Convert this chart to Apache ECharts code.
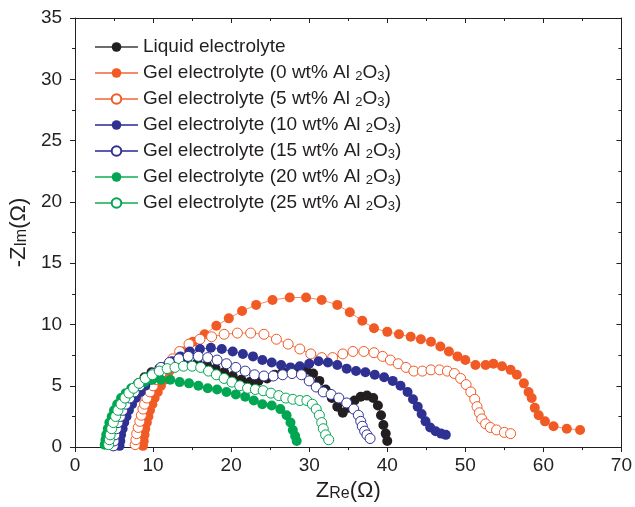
<!DOCTYPE html>
<html><head><meta charset="utf-8">
<script src="https://cdn.jsdelivr.net/npm/echarts@6/dist/echarts.min.js"></script>
<style>html,body{margin:0;padding:0;background:#fff}#c{width:635px;height:507px}</style>
</head><body><div id="c"></div>
<script>
const seriesNames = ["Liquid electrolyte","Gel electrolyte (0 wt% Al2O3)","Gel electrolyte (5 wt% Al2O3)","Gel electrolyte (10 wt% Al2O3)","Gel electrolyte (15 wt% Al2O3)","Gel electrolyte (20 wt% Al2O3)","Gel electrolyte (25 wt% Al2O3)"];
const xTicks = [0,10,20,30,40,50,60,70];
const yTicks = [0,5,10,15,20,25,30,35];

const liquidX = [5.0,5.1,5.2,5.4,5.6,5.9,6.3,6.8,7.4,8.1,8.9,9.8,10.8,11.9,13.1,14.4,15.7,16.9,18.0,19.1,20.2,21.3,22.4,23.5,24.6,25.6,26.6,27.6,28.6,29.6,30.5,31.3,32.1,32.9,33.6,34.3,35.0,35.8,36.6,37.4,38.2,38.8,39.2,39.5,39.8,40.0];
const liquidY = [0.1,0.6,1.1,1.7,2.3,2.9,3.5,4.1,4.7,5.2,5.7,6.1,6.4,6.6,6.8,6.9,6.9,6.7,6.4,6.1,5.8,5.5,5.3,5.4,5.6,5.9,6.1,6.3,6.4,6.3,6.0,5.4,4.7,4.0,3.3,2.8,3.2,3.8,4.1,4.2,4.0,3.4,2.6,1.8,1.1,0.5];

const gel0X = [8.7,8.8,8.9,9.0,9.2,9.4,9.6,9.9,10.2,10.6,11.0,11.5,12.1,12.9,13.8,15.1,16.6,18.1,19.7,21.4,23.2,25.3,27.5,29.6,31.6,33.6,35.2,36.8,38.3,40.0,41.5,43.0,44.3,45.6,46.8,47.9,49.0,50.0,51.3,52.6,53.6,54.7,55.8,56.6,57.5,58.1,58.5,58.9,59.4,60.2,61.3,63.0,64.7];
const gel0Y = [0.1,0.5,1.0,1.5,2.0,2.5,3.0,3.5,4.0,4.5,5.0,5.5,6.2,7.0,7.8,8.6,9.2,9.9,10.5,11.1,11.6,12.0,12.2,12.2,12.0,11.6,11.0,10.3,9.7,9.4,9.2,9.0,8.8,8.6,8.2,7.8,7.4,7.1,6.7,6.7,6.8,6.6,6.3,5.9,5.2,4.5,4.0,3.2,2.6,2.1,1.7,1.5,1.4];

const gel5X = [7.7,7.8,7.9,8.1,8.3,8.5,8.7,8.9,9.2,9.6,10.0,10.4,11.0,11.7,12.5,13.4,14.6,16.0,17.5,19.1,20.8,22.5,24.2,25.8,27.3,28.8,30.2,31.6,33.0,34.3,35.6,37.0,38.3,39.4,40.4,41.4,42.4,43.4,44.5,45.6,46.7,47.7,48.6,49.4,50.1,50.7,51.2,51.5,51.8,52.1,52.6,53.2,54.0,55.0,55.8];
const gel5Y = [0.2,0.6,1.1,1.6,2.1,2.6,3.1,3.5,4.0,4.5,5.0,5.5,6.0,6.6,7.2,7.8,8.4,8.8,9.0,9.2,9.3,9.3,9.2,8.8,8.4,8.0,7.6,7.3,7.3,7.6,7.8,7.8,7.7,7.4,7.1,6.8,6.5,6.2,6.2,6.3,6.3,6.2,6.0,5.6,5.1,4.5,3.9,3.3,2.8,2.3,1.9,1.6,1.4,1.2,1.1];

const gel10X = [5.7,5.8,5.9,6.1,6.3,6.6,6.9,7.3,7.8,8.4,9.0,9.7,10.5,11.4,12.4,13.5,14.7,16.0,17.4,18.8,20.2,21.5,22.8,24.0,25.2,26.4,27.6,28.8,30.0,31.2,32.4,33.6,34.8,36.0,37.2,38.4,39.6,40.7,41.7,42.6,43.3,43.9,44.4,44.9,45.5,46.2,46.9,47.5];
const gel10Y = [0.1,0.5,1.0,1.5,2.0,2.5,3.0,3.5,4.0,4.5,5.0,5.5,6.0,6.5,7.0,7.4,7.8,8.0,8.1,8.0,7.8,7.6,7.4,7.1,6.9,6.7,6.5,6.6,6.8,7.0,6.9,6.7,6.4,6.2,6.1,5.9,5.7,5.4,5.0,4.5,3.9,3.3,2.7,2.1,1.6,1.3,1.1,1.0];

const gel15X = [4.9,5.0,5.1,5.3,5.5,5.8,6.1,6.5,7.0,7.6,8.3,9.1,10.0,11.0,12.1,13.3,14.5,15.8,17.0,18.2,19.4,20.6,21.8,23.0,24.2,25.4,26.6,27.8,29.0,30.0,30.9,31.8,32.8,33.8,34.8,35.7,36.3,36.6,36.8,37.1,37.4,37.8];
const gel15Y = [0.1,0.5,1.0,1.5,2.0,2.5,3.0,3.5,4.0,4.5,5.0,5.5,6.0,6.5,6.9,7.2,7.4,7.4,7.3,7.1,6.8,6.5,6.2,5.9,5.8,5.8,5.9,6.0,5.9,5.4,4.9,4.5,4.3,4.0,3.6,3.1,2.6,2.1,1.7,1.3,1.0,0.7];

const gel20X = [3.8,3.9,4.0,4.2,4.4,4.7,5.0,5.4,5.9,6.5,7.2,8.0,8.9,9.9,11.0,12.2,13.4,14.6,15.8,17.0,18.2,19.4,20.6,21.8,22.9,24.0,25.2,26.3,27.1,27.6,27.9,28.2,28.4];
const gel20Y = [0.2,0.6,1.0,1.5,2.0,2.5,3.0,3.5,4.0,4.4,4.8,5.1,5.3,5.5,5.5,5.5,5.3,5.2,5.0,4.8,4.7,4.5,4.3,4.1,3.8,3.5,3.4,3.1,2.6,2.0,1.4,0.9,0.5];

const gel25X = [4.3,4.4,4.5,4.7,4.9,5.2,5.5,5.9,6.4,6.9,7.5,8.2,9.0,9.9,10.8,11.8,12.8,13.9,15.0,16.1,17.1,18.1,19.1,20.1,21.1,22.1,23.1,24.1,25.1,26.1,27.0,27.9,28.8,29.7,30.4,30.9,31.3,31.6,31.8,32.1,32.5];
const gel25Y = [0.2,0.6,1.0,1.5,2.0,2.5,3.0,3.5,4.0,4.4,4.8,5.2,5.6,5.9,6.2,6.4,6.5,6.6,6.6,6.5,6.2,5.9,5.6,5.3,5.0,4.8,4.7,4.6,4.4,4.2,4.0,3.9,3.8,3.8,3.5,3.1,2.6,2.0,1.5,1.0,0.6];

const xs = [liquidX,gel0X,gel5X,gel10X,gel15X,gel20X,gel25X];
const ys = [liquidY,gel0Y,gel5Y,gel10Y,gel15Y,gel20Y,gel25Y];
const markColors = ["#231f20","#f15a24","#f15a24","#2e3192","#2e3192","#00a651","#00a651"];
const lineColors = ["#6d6d6d","#f58a6a","#f58a6a","#5a5db0","#5a5db0","#4cc07f","#4cc07f"];
const hollow = [false,false,true,false,true,false,true];

const FONT = "Liberation Sans, Arial, sans-serif";
const series = seriesNames.map((n,i)=>({
  name:n, type:'line', xAxisIndex:0, yAxisIndex:0,
  data: xs[i].map((x,k)=>[x, ys[i][k]]),
  symbol:'circle', symbolSize:10, showSymbol:true,
  lineStyle:{color:lineColors[i], width:1},
  itemStyle: hollow[i] ? {color:'#ffffff', borderColor:markColors[i], borderWidth:1} : {color:markColors[i], borderColor:markColors[i], borderWidth:0},
  animation:false, z: 2+i
}));

const nameRich = {s:{fontFamily:FONT, fontSize:16, color:'#231f20', verticalAlign:'bottom', lineHeight:20}};
const chart = echarts.init(document.getElementById('c'));
chart.setOption({
  animation:false,
  backgroundColor:'#fff',
  grid:{left:75, right:12, top:18, bottom:56},
  legend:{
    left:89, top:32, orient:'vertical', itemWidth:43, itemHeight:12, itemGap:6,
    data: seriesNames,
    formatter: n => n.replace('Al2O3','Al {s|2}O{s|3}'),
    textStyle:{fontFamily:FONT, fontSize:19, color:'#231f20', lineHeight:20,
      rich:{s:{fontFamily:FONT, fontSize:13, color:'#231f20', verticalAlign:'bottom', lineHeight:16}}}
  },
  xAxis:[{
    type:'value', min:0, max:70, interval:10, position:'bottom',
    name:'Z{s|Re}(Ω)', nameLocation:'middle', nameGap:30,
    nameTextStyle:{fontFamily:FONT, fontSize:22, color:'#231f20', rich:nameRich},
    axisLine:{show:true, onZero:false, lineStyle:{color:'#231f20', width:1}},
    axisTick:{show:true, inside:false, length:5, lineStyle:{color:'#231f20'}},
    minorTick:{show:true, splitNumber:2, length:3, lineStyle:{color:'#231f20'}},
    axisLabel:{fontFamily:FONT, fontSize:19, color:'#231f20', margin:9, formatter:v=>xTicks.includes(v)?String(v):''},
    splitLine:{show:false}
  },{
    type:'value', min:0, max:70, interval:10, position:'top',
    axisLine:{show:true, onZero:false, lineStyle:{color:'#231f20', width:1}},
    axisTick:{show:true, inside:true, length:5, lineStyle:{color:'#231f20'}},
    minorTick:{show:true, splitNumber:2, length:3, lineStyle:{color:'#231f20'}},
    axisLabel:{show:false}, splitLine:{show:false}
  }],
  yAxis:[{
    type:'value', min:0, max:35, interval:5, position:'left',
    name:'-Z{s|Im}(Ω)', nameLocation:'middle', nameGap:44, nameRotate:90,
    nameTextStyle:{fontFamily:FONT, fontSize:22, color:'#231f20', rich:nameRich},
    axisLine:{show:true, onZero:false, lineStyle:{color:'#231f20', width:1}},
    axisTick:{show:true, inside:false, length:5, lineStyle:{color:'#231f20'}},
    minorTick:{show:true, splitNumber:2, length:3, lineStyle:{color:'#231f20'}},
    axisLabel:{fontFamily:FONT, fontSize:19, color:'#231f20', margin:13, formatter:v=>yTicks.includes(v)?String(v):''},
    splitLine:{show:false}
  },{
    type:'value', min:0, max:35, interval:5, position:'right',
    axisLine:{show:true, onZero:false, lineStyle:{color:'#231f20', width:1}},
    axisTick:{show:true, inside:true, length:5, lineStyle:{color:'#231f20'}},
    minorTick:{show:true, splitNumber:2, length:3, lineStyle:{color:'#231f20'}},
    axisLabel:{show:false}, splitLine:{show:false}
  }],
  series: series
});
</script>
</body></html>
